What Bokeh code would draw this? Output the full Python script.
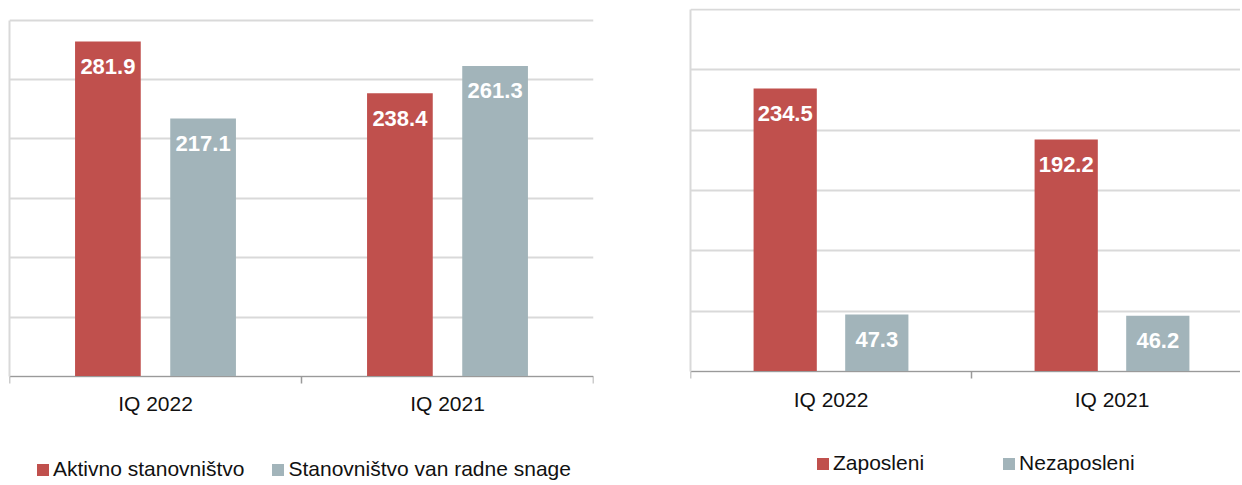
from bokeh.plotting import figure
from bokeh.models import (ColumnDataSource, LabelSet, Legend, LegendItem,
                          FixedTicker, Range1d)
from bokeh.layouts import row
from bokeh.core.properties import value
from bokeh.embed import file_html
from bokeh.resources import INLINE

# ---- data ----
categories = ["IQ 2022", "IQ 2021"]
left_series = ["Aktivno stanovništvo", "Stanovništvo van radne snage"]
aktivno = [281.9, 238.4]
van_radne_snage = [217.1, 261.3]
right_series = ["Zaposleni", "Nezaposleni"]
zaposleni = [234.5, 192.2]
nezaposleni = [47.3, 46.2]
y_ticks = [0, 50, 100, 150, 200, 250, 300]

RED = "#C0504D"
GRAY = "#A2B4BA"
FONT = "Liberation Sans"
GRID = "#D9D9D9"
AXIS = "#9A9A9A"

H = 482
BT = 8
BB = 1


def make_panel(vals_a, vals_b, names, width, x_end, y_start, y_end, bl, br,
               leg_x, leg_y, leg_spacing):
    p = figure(width=width, height=H, title=None,
               x_range=Range1d(0, x_end), y_range=Range1d(y_start, y_end),
               output_backend="svg", toolbar_location=None,
               min_border_left=bl, min_border_right=br,
               min_border_top=BT, min_border_bottom=BB)
    p.outline_line_color = None
    p.background_fill_color = "white"
    p.border_fill_color = "white"

    centers = [i + 0.5 for i in range(len(categories))]
    bar_w = 0.225
    off = 0.163

    src_a = ColumnDataSource(dict(x=[c - off for c in centers], top=vals_a,
                                  text=[f"{v:.1f}" for v in vals_a]))
    src_b = ColumnDataSource(dict(x=[c + off for c in centers], top=vals_b,
                                  text=[f"{v:.1f}" for v in vals_b]))

    ra = p.vbar(x="x", top="top", bottom=0, width=bar_w, source=src_a,
                fill_color=RED, line_color=None)
    rb = p.vbar(x="x", top="top", bottom=0, width=bar_w, source=src_b,
                fill_color=GRAY, line_color=None)

    for src in (src_a, src_b):
        p.add_layout(LabelSet(x="x", y="top", text="text", source=src,
                              text_color="white", text_font_style="bold",
                              text_font_size="22px", text_font=value(FONT),
                              text_align="center", text_baseline="middle",
                              y_offset=-25))

    # category labels under the base line
    cat_src = ColumnDataSource(dict(x=centers, y=[0] * len(centers),
                                    text=categories))
    p.add_layout(LabelSet(x="x", y="y", text="text", source=cat_src,
                          text_color="#111111", text_font_size="21px",
                          text_font=value(FONT), text_align="center",
                          text_baseline="middle", y_offset=-27.5))

    # y axis: only a light vertical line from 0 to 300, no ticks / labels
    ya = p.yaxis[0]
    ya.ticker = FixedTicker(ticks=[])
    ya.bounds = (0, 300)
    ya.axis_line_color = GRID
    ya.axis_line_width = 2
    ya.major_tick_line_color = None
    ya.minor_tick_line_color = None
    ya.major_tick_out = 0
    ya.major_tick_in = 0
    ya.major_label_standoff = 0

    p.ygrid.ticker = FixedTicker(ticks=y_ticks)
    p.ygrid.grid_line_color = GRID
    p.ygrid.grid_line_width = 2
    p.xgrid.visible = False

    # x axis: base line with boundary ticks between categories
    xa = p.xaxis[0]
    xa.ticker = FixedTicker(ticks=[], minor_ticks=[0, 1, 2])
    xa.major_tick_line_color = None
    xa.major_tick_out = 0
    xa.major_tick_in = 0
    xa.major_label_standoff = 0
    xa.minor_tick_line_color = AXIS
    xa.minor_tick_line_width = 1.5
    xa.minor_tick_out = 7
    xa.minor_tick_in = 0
    xa.axis_line_color = AXIS
    xa.axis_line_width = 1
    xa.fixed_location = 0
    xa.bounds = (0, x_end)

    legend = Legend(items=[LegendItem(label=names[0], renderers=[ra]),
                           LegendItem(label=names[1], renderers=[rb])],
                    orientation="horizontal", location=(leg_x, leg_y),
                    glyph_width=15, glyph_height=15, label_standoff=3,
                    spacing=leg_spacing, padding=0, margin=0,
                    label_text_font=FONT, label_text_font_size="21px",
                    label_text_color="#111111",
                    border_line_color=None, background_fill_alpha=0)
    p.add_layout(legend, "center")
    return p


W1 = 640
FRAME_BOTTOM = 1 + H - BB
left = make_panel(aktivno, van_radne_snage, left_series,
                  width=W1, x_end=2.0,
                  y_start=-(FRAME_BOTTOM - 377) / 1.1883, y_end=309.68,
                  bl=9, br=1 + W1 - 594,
                  leg_x=26, leg_y=0, leg_spacing=26)
right = make_panel(zaposleni, nezaposleni, right_series,
                   width=1240 - W1, x_end=550 / 281,
                   y_start=-(FRAME_BOTTOM - 372) / 1.2067, y_end=300.83,
                   bl=690 - W1, br=0,
                   leg_x=125, leg_y=6, leg_spacing=77)

layout = row(left, right, spacing=0)
open("out.html", "w").write(file_html(layout, INLINE))
